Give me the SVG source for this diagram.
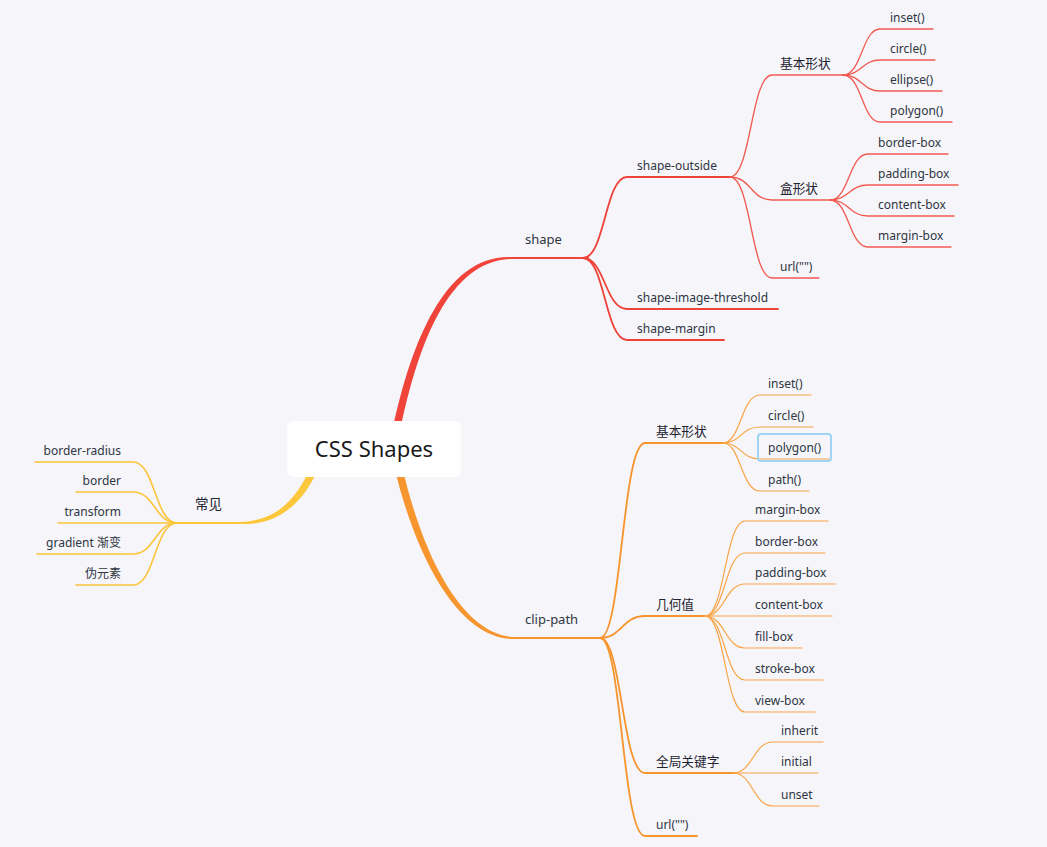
<svg xmlns="http://www.w3.org/2000/svg" width="1047" height="847" viewBox="0 0 1047 847">
<style>
text{font-family:"Noto Sans","Noto Sans CJK SC",sans-serif;fill:#2f3542}
.l1{font-size:13px}
.l2{font-size:12px}
.cj{font-size:12.7px;fill:#1f2430}
.root{font-size:22px;fill:#1a1a1a}
.c{fill:none;stroke-linecap:round}
.r2{stroke:#ef4238;stroke-width:1.8}
.r3{stroke:#f25a50;stroke-width:1.3}
.o2{stroke:#f7942c;stroke-width:1.8}
.o3{stroke:#f9a445;stroke-width:1.2}
.y2{stroke:#fcc53a;stroke-width:1.6}
.end{text-anchor:end}
</style>
<rect width="1047" height="847" fill="#f5f5fa"/>
<g id="connectors">
  <!-- main trunks -->
  <path d="M 392.3 431.2 C 411.6 339.3, 446.5 255.5, 510 257.1 L 510 258.9 C 450 261.5, 418.4 340.7, 399.7 432.8 Z" fill="#f0433a"/>
  <path class="c" d="M 508 258 L 588 258" stroke="#f0433a" stroke-width="2"/>
  <path d="M 394.3 466.9 C 416.6 560.8, 460.5 640.5, 515 638.9 L 515 637.1 C 463.5 635.5, 423.4 559.2, 401.7 465.1 Z" fill="#f7952e"/>
  <path class="c" d="M 513 638 L 602 638" stroke="#f7952e" stroke-width="2"/>
  <path d="M 321.5 461.4 C 303.5 506.4, 276 525.5, 240 523.9 L 240 522.1 C 274 520.5, 296.5 503.6, 314.5 458.6 Z" fill="#fcc73a"/>
  <path class="c" d="M 242 523 L 177 523" stroke="#fcc73a" stroke-width="2"/>
  <!-- shape level 2 -->
  <path class="c r2" d="M 583 258 C 605 258, 605 177, 627 177 L 732 177"/>
  <path class="c r2" d="M 583 258 C 605 258, 605 309, 627 309 L 778 309"/>
  <path class="c r2" d="M 583 258 C 605 258, 605 340, 627 340 L 724 340"/>
  <!-- shape-outside level 3 -->
  <path class="c r3" d="M 730 177 C 751 177, 751 75, 772 75 L 845 75"/>
  <path class="c r3" d="M 730 177 C 751 177, 751 200, 772 200 L 832 200"/>
  <path class="c r3" d="M 730 177 C 751 177, 751 278, 772 278 L 819 278"/>
  <!-- 基本形状 level 4 -->
  <path class="c r3" d="M 843 75 C 862 75, 862 29, 880 29 L 933 29"/>
  <path class="c r3" d="M 843 75 C 862 75, 862 60, 880 60 L 935 60"/>
  <path class="c r3" d="M 843 75 C 862 75, 862 91, 880 91 L 942 91"/>
  <path class="c r3" d="M 843 75 C 862 75, 862 122, 880 122 L 952 122"/>
  <!-- 盒形状 level 4 -->
  <path class="c r3" d="M 830 200 C 849 200, 849 154, 868 154 L 948 154"/>
  <path class="c r3" d="M 830 200 C 849 200, 849 185, 868 185 L 958 185"/>
  <path class="c r3" d="M 830 200 C 849 200, 849 216, 868 216 L 954 216"/>
  <path class="c r3" d="M 830 200 C 849 200, 849 247, 868 247 L 951 247"/>
  <!-- clip-path level 2 -->
  <path class="c o2" d="M 600 638 C 622 638, 622 443, 645 443 L 725 443"/>
  <path class="c o2" d="M 600 638 C 622 638, 622 616, 645 616 L 707 616"/>
  <path class="c o2" d="M 600 638 C 622 638, 622 773, 645 773 L 735 773"/>
  <path class="c o2" d="M 600 638 C 622 638, 622 836, 645 836 L 697 836"/>
  <!-- 基本形状 level 3 -->
  <path class="c o3" d="M 723 443 C 741 443, 741 395, 760 395 L 811 395"/>
  <path class="c o3" d="M 723 443 C 741 443, 741 427, 760 427 L 813 427"/>
  <path class="c o3" d="M 723 443 C 741 443, 741 459, 760 459 L 829 459"/>
  <path class="c o3" d="M 723 443 C 741 443, 741 491, 760 491 L 809 491"/>
  <!-- 几何值 level 3 -->
  <path class="c o3" d="M 705 616 C 725 616, 725 521, 745 521 L 828 521"/>
  <path class="c o3" d="M 705 616 C 725 616, 725 553, 745 553 L 825 553"/>
  <path class="c o3" d="M 705 616 C 725 616, 725 584, 745 584 L 835 584"/>
  <path class="c o3" d="M 705 616 L 832 616"/>
  <path class="c o3" d="M 705 616 C 725 616, 725 648, 745 648 L 802 648"/>
  <path class="c o3" d="M 705 616 C 725 616, 725 680, 745 680 L 823 680"/>
  <path class="c o3" d="M 705 616 C 725 616, 725 712, 745 712 L 815 712"/>
  <!-- 全局关键字 level 3 -->
  <path class="c o3" d="M 733 773 C 753 773, 753 742, 773 742 L 823 742"/>
  <path class="c o3" d="M 733 773 L 818 773"/>
  <path class="c o3" d="M 733 773 C 753 773, 753 806, 773 806 L 819 806"/>
  <!-- 常见 level 2 -->
  <path class="c y2" d="M 177 523 C 155 523, 155 462, 133 462 L 35 462"/>
  <path class="c y2" d="M 177 523 C 155 523, 155 492, 133 492 L 76 492"/>
  <path class="c y2" d="M 177 523 L 58 523"/>
  <path class="c y2" d="M 177 523 C 155 523, 155 554, 133 554 L 37 554"/>
  <path class="c y2" d="M 177 523 C 155 523, 155 585, 133 585 L 76 585"/>
</g>
<g id="root"><rect x="287" y="421" width="174" height="56" rx="6" fill="#ffffff"/><text class="root" x="374" y="457" text-anchor="middle">CSS Shapes</text></g>
<g id="n-shape"><text class="l1" x="525" y="244">shape</text></g>
<g id="n-shape-outside"><text class="l2" x="637" y="169.5">shape-outside</text></g>
<g id="n-shape-image-threshold"><text class="l2" x="637" y="301.5">shape-image-threshold</text></g>
<g id="n-shape-margin"><text class="l2" x="637" y="332.5">shape-margin</text></g>
<g id="n-so-basic"><text class="cj" x="780" y="68">基本形状</text></g>
<g id="n-so-inset"><text class="l2" x="890" y="22">inset()</text></g>
<g id="n-so-circle"><text class="l2" x="890" y="53">circle()</text></g>
<g id="n-so-ellipse"><text class="l2" x="890" y="84">ellipse()</text></g>
<g id="n-so-polygon"><text class="l2" x="890" y="115">polygon()</text></g>
<g id="n-so-box"><text class="cj" x="780" y="193">盒形状</text></g>
<g id="n-so-border-box"><text class="l2" x="878" y="147">border-box</text></g>
<g id="n-so-padding-box"><text class="l2" x="878" y="178">padding-box</text></g>
<g id="n-so-content-box"><text class="l2" x="878" y="209">content-box</text></g>
<g id="n-so-margin-box"><text class="l2" x="878" y="240">margin-box</text></g>
<g id="n-so-url"><text class="l2" x="780" y="271">url("")</text></g>
<g id="n-clip-path"><text class="l1" x="525" y="624">clip-path</text></g>
<g id="n-cp-basic"><text class="cj" x="656" y="436">基本形状</text></g>
<g id="n-cp-inset"><text class="l2" x="768" y="388">inset()</text></g>
<g id="n-cp-circle"><text class="l2" x="768" y="420">circle()</text></g>
<g id="n-cp-polygon"><rect x="758" y="434" width="73" height="27" rx="3" fill="none" stroke="#9fd4f6" stroke-width="2"/><text class="l2" x="768" y="452">polygon()</text></g>
<g id="n-cp-path"><text class="l2" x="768" y="484">path()</text></g>
<g id="n-cp-geo"><text class="cj" x="656" y="609">几何值</text></g>
<g id="n-cp-margin-box"><text class="l2" x="755" y="514">margin-box</text></g>
<g id="n-cp-border-box"><text class="l2" x="755" y="546">border-box</text></g>
<g id="n-cp-padding-box"><text class="l2" x="755" y="577">padding-box</text></g>
<g id="n-cp-content-box"><text class="l2" x="755" y="609">content-box</text></g>
<g id="n-cp-fill-box"><text class="l2" x="755" y="641">fill-box</text></g>
<g id="n-cp-stroke-box"><text class="l2" x="755" y="673">stroke-box</text></g>
<g id="n-cp-view-box"><text class="l2" x="755" y="705">view-box</text></g>
<g id="n-cp-global"><text class="cj" x="656" y="766">全局关键字</text></g>
<g id="n-cp-inherit"><text class="l2" x="781" y="735">inherit</text></g>
<g id="n-cp-initial"><text class="l2" x="781" y="766">initial</text></g>
<g id="n-cp-unset"><text class="l2" x="781" y="799">unset</text></g>
<g id="n-cp-url"><text class="l2" x="656" y="829">url("")</text></g>
<g id="n-common"><text class="cj" x="195" y="509" style="font-size:13.5px">常见</text></g>
<g id="n-border-radius"><text class="l2 end" x="121" y="455">border-radius</text></g>
<g id="n-border"><text class="l2 end" x="121" y="485">border</text></g>
<g id="n-transform"><text class="l2 end" x="121" y="516">transform</text></g>
<g id="n-gradient"><text class="l2 end" x="121" y="547">gradient 渐变</text></g>
<g id="n-pseudo"><text class="l2 end" x="121" y="578">伪元素</text></g>
</svg>
